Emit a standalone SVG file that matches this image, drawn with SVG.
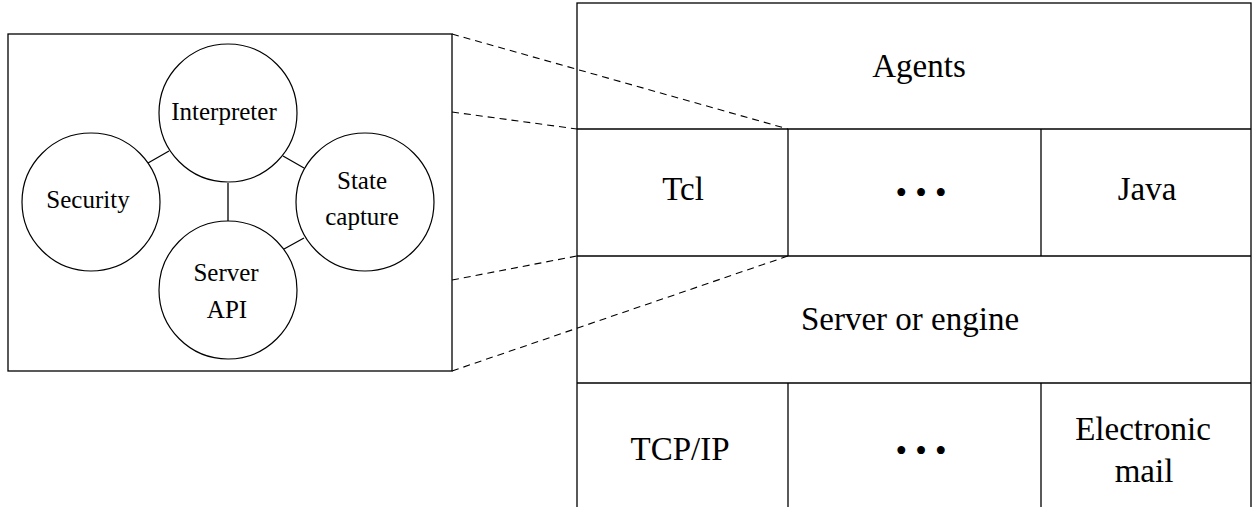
<svg xmlns="http://www.w3.org/2000/svg" width="1252" height="507" viewBox="0 0 1252 507">
<style>
.ln{stroke:#000;stroke-width:1.3;fill:none}
.cir{stroke:#000;stroke-width:1.2;fill:#fff}
.dash{stroke:#000;stroke-width:1.1;fill:none;stroke-dasharray:7,5}
.sm{font-family:"Liberation Serif","Times New Roman",serif;font-size:25px;text-anchor:middle;fill:#000}
.lg{font-family:"Liberation Serif","Times New Roman",serif;font-size:33px;text-anchor:middle;fill:#000}
</style>
<rect width="1252" height="507" fill="#fff"/>
<g id="zoom-box">
<rect x="8" y="34" width="444" height="337" class="ln"/>
</g>
<g id="connectors">
<line x1="148" y1="163" x2="169" y2="151" class="ln"/>
<line x1="228" y1="183" x2="228" y2="222" class="ln"/>
<line x1="283" y1="156" x2="304" y2="168" class="ln"/>
<line x1="284" y1="249" x2="304" y2="238" class="ln"/>
<line x1="452" y1="34" x2="788" y2="129" class="dash"/>
<line x1="452" y1="112" x2="577" y2="129" class="dash"/>
<line x1="452" y1="280" x2="577" y2="256" class="dash"/>
<line x1="452" y1="371" x2="788" y2="256" class="dash"/>
</g>
<g id="interpreter">
<circle cx="228" cy="113" r="69" class="cir"/>
<text x="224" y="120" class="sm">Interpreter</text>
</g>
<g id="security">
<circle cx="91" cy="202" r="69" class="cir"/>
<text x="88" y="208" class="sm">Security</text>
</g>
<g id="state-capture">
<circle cx="365" cy="202" r="69" class="cir"/>
<text x="362" y="189" class="sm">State</text>
<text x="362" y="225" class="sm">capture</text>
</g>
<g id="server-api">
<circle cx="228" cy="290" r="69" class="cir"/>
<text x="226" y="281" class="sm">Server</text>
<text x="227" y="318" class="sm">API</text>
</g>
<g id="stack">
<rect x="577" y="3" width="674" height="510" class="ln"/>
<line x1="577" y1="129" x2="1251" y2="129" class="ln"/>
<line x1="577" y1="256" x2="1251" y2="256" class="ln"/>
<line x1="577" y1="383" x2="1251" y2="383" class="ln"/>
<line x1="788" y1="129" x2="788" y2="256" class="ln"/>
<line x1="1041" y1="129" x2="1041" y2="256" class="ln"/>
<line x1="788" y1="383" x2="788" y2="507" class="ln"/>
<line x1="1041" y1="383" x2="1041" y2="507" class="ln"/>
</g>
<g id="agents"><text x="919" y="77" class="lg">Agents</text></g>
<g id="tcl"><text x="683" y="200" class="lg">Tcl</text></g>
<g id="lang-more"><text x="921" y="204" class="lg">• • •</text></g>
<g id="java"><text x="1147" y="200" class="lg">Java</text></g>
<g id="server-engine"><text x="910" y="330" class="lg">Server or engine</text></g>
<g id="tcpip"><text x="680" y="460" class="lg">TCP/IP</text></g>
<g id="transport-more"><text x="921" y="462" class="lg">• • •</text></g>
<g id="email"><text x="1143" y="440" class="lg">Electronic</text><text x="1144" y="482" class="lg">mail</text></g>
</svg>
